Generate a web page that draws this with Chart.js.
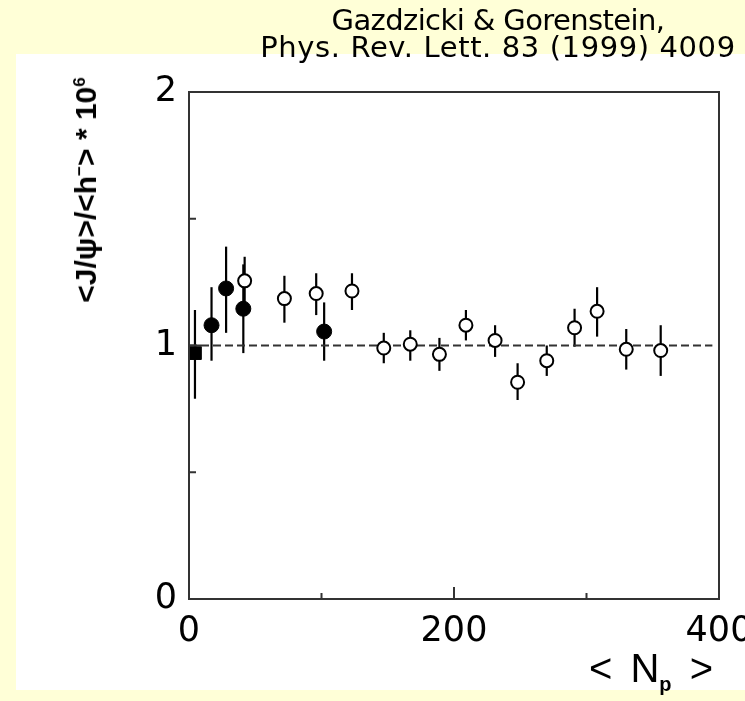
<!DOCTYPE html>
<html>
<head>
<meta charset="utf-8">
<script src="https://cdn.jsdelivr.net/npm/chart.js@4.4.0/dist/chart.umd.min.js"></script>
<style>
  html, body { margin: 0; padding: 0; }
  body { width: 745px; height: 701px; overflow: hidden; background: #ffffd7; position: relative; }
  .panel { position: absolute; left: 16px; top: 54px; width: 729px; height: 636px; background: #fff; }
  #myChart { position: absolute; left: 0; top: 0; }
  .ref { position: absolute; left: 240px; width: 516px; text-align: center; font-family: "DejaVu Sans", sans-serif; font-size: 29px; line-height: 29px; color: #000; white-space: nowrap; }
  .ytitle { position: absolute; left: 86px; top: 190px; transform: translate(-50%, -50%) rotate(-90deg);
            font-family: "Liberation Sans", Arial, sans-serif; font-weight: bold; font-size: 30px; white-space: nowrap; color: #000; }
  .ytitle sup { font-size: 17px; }
  .xtitle { position: absolute; left: 589px; top: 645px; font-family: "Liberation Sans", Arial, sans-serif; font-size: 40px; line-height: 46px; word-spacing: 7px; white-space: nowrap; color: #000; }
  .xtitle sub { font-size: 20px; font-weight: bold; }
</style>
</head>
<body>
<div class="panel"></div>
<canvas id="myChart" width="780" height="701"></canvas>
<div class="ref" style="top:6px; left:240px; letter-spacing:-0.6px">Gazdzicki &amp; Gorenstein,</div>
<div class="ref" style="top:33px; letter-spacing:0.6px">Phys. Rev. Lett. 83 (1999) 4009</div>
<div class="ytitle">&lt;J/ψ&gt;/&lt;h<sup>−</sup>&gt; * 10<sup>6</sup></div>
<div class="xtitle">&lt; N<sub>p</sub> &gt;</div>
<script>
// filled points (first one drawn as a square)
const filledN = [4.5, 17, 28, 41, 102]
const filledRatio = [0.97, 1.08, 1.225, 1.145, 1.055]
const filledLow = [0.79, 0.94, 1.05, 0.97, 0.94]
const filledHigh = [1.14, 1.23, 1.39, 1.32, 1.17]

// open points
const openN = [42, 72, 96, 123, 147, 167, 189, 209, 231, 248, 270, 291, 308, 330, 356]
const openRatio = [1.255, 1.185, 1.205, 1.215, 0.99, 1.005, 0.965, 1.08, 1.02, 0.855, 0.94, 1.07, 1.135, 0.985, 0.98]
const openLow = [1.16, 1.09, 1.12, 1.14, 0.93, 0.94, 0.90, 1.02, 0.955, 0.785, 0.88, 0.995, 1.035, 0.905, 0.88]
const openHigh = [1.35, 1.275, 1.285, 1.285, 1.05, 1.06, 1.03, 1.14, 1.08, 0.93, 1.0, 1.145, 1.23, 1.065, 1.08]

// reference line
const refN = [0, 395]
const refRatio = [1, 1]

const xTicks = [0, 200, 400]
const yTicks = [0, 1, 2]

function pts(xs, ys) {
  return xs.map((x, i) => ({ x: x, y: ys[i] }))
}

const frame = {
  id: 'frame',
  beforeDatasetsDraw(chart) {
    const c = chart.ctx
    const x = chart.scales.x
    const y = chart.scales.y
    c.save()
    c.strokeStyle = '#000'
    c.lineWidth = 2.2
    chart.data.datasets.forEach((ds) => {
      if (!ds.errLow) return
      ds.data.forEach((p, i) => {
        const px = x.getPixelForValue(p.x)
        c.beginPath()
        c.moveTo(px, y.getPixelForValue(ds.errLow[i]))
        c.lineTo(px, y.getPixelForValue(ds.errHigh[i]))
        c.stroke()
      })
    })
    c.restore()
  },
  afterDraw(chart) {
    const c = chart.ctx
    const a = chart.chartArea
    const x = chart.scales.x
    const y = chart.scales.y
    c.save()
    c.strokeStyle = '#333'
    c.lineWidth = 2
    c.strokeRect(a.left, a.top, a.right - a.left, a.bottom - a.top)
    // inner tick marks
    c.beginPath()
    ;[100, 200, 300].forEach((v) => {
      const px = x.getPixelForValue(v)
      const len = v % 200 == 0 ? 12 : 6
      c.moveTo(px, a.bottom)
      c.lineTo(px, a.bottom - len)
    })
    ;[0.5, 1, 1.5].forEach((v) => {
      const py = y.getPixelForValue(v)
      const len = v % 1 == 0 ? 12 : 7
      c.moveTo(a.left, py)
      c.lineTo(a.left + len, py)
    })
    c.stroke()
    c.restore()
  }
}

const ctx = document.getElementById('myChart')

new Chart(ctx, {
  type: 'scatter',
  data: {
    datasets: [
      {
        label: 'filled',
        data: pts(filledN, filledRatio),
        errLow: filledLow,
        errHigh: filledHigh,
        pointStyle: ['rect', 'circle', 'circle', 'circle', 'circle'],
        pointRadius: [9, 7.5, 7.5, 7.5, 7.5],
        backgroundColor: '#000',
        borderColor: '#000',
        borderWidth: 1,
        clip: false
      },
      {
        label: 'open',
        data: pts(openN, openRatio),
        errLow: openLow,
        errHigh: openHigh,
        pointStyle: 'circle',
        pointRadius: 6.5,
        backgroundColor: '#fff',
        borderColor: '#000',
        borderWidth: 2,
        clip: false
      },
      {
        label: 'ref',
        type: 'line',
        data: pts(refN, refRatio),
        borderColor: '#333',
        borderWidth: 2,
        borderDash: [8, 4],
        pointRadius: 0,
        fill: false
      }
    ]
  },
  options: {
    responsive: false,
    animation: false,
    events: [],
    layout: { padding: { left: 0, top: 92, right: 61, bottom: 0 } },
    plugins: { legend: { display: false }, tooltip: { enabled: false } },
    scales: {
      x: {
        type: 'linear',
        min: 0,
        max: 400,
        afterFit: (s) => { s.height = 102 },
        afterBuildTicks: (s) => { s.ticks = xTicks.map((v) => ({ value: v })) },
        grid: { display: false, drawTicks: false },
        border: { display: false },
        ticks: { padding: 12, color: '#000', font: { family: 'DejaVu Sans', size: 35 }, maxRotation: 0 }
      },
      y: {
        type: 'linear',
        min: 0,
        max: 2,
        afterFit: (s) => { s.width = 189 },
        afterBuildTicks: (s) => { s.ticks = yTicks.map((v) => ({ value: v })) },
        grid: { display: false, drawTicks: false },
        border: { display: false },
        ticks: { padding: 12, color: '#000', font: { family: 'DejaVu Sans', size: 35 } }
      }
    }
  },
  plugins: [frame]
})
</script>
</body>
</html>
